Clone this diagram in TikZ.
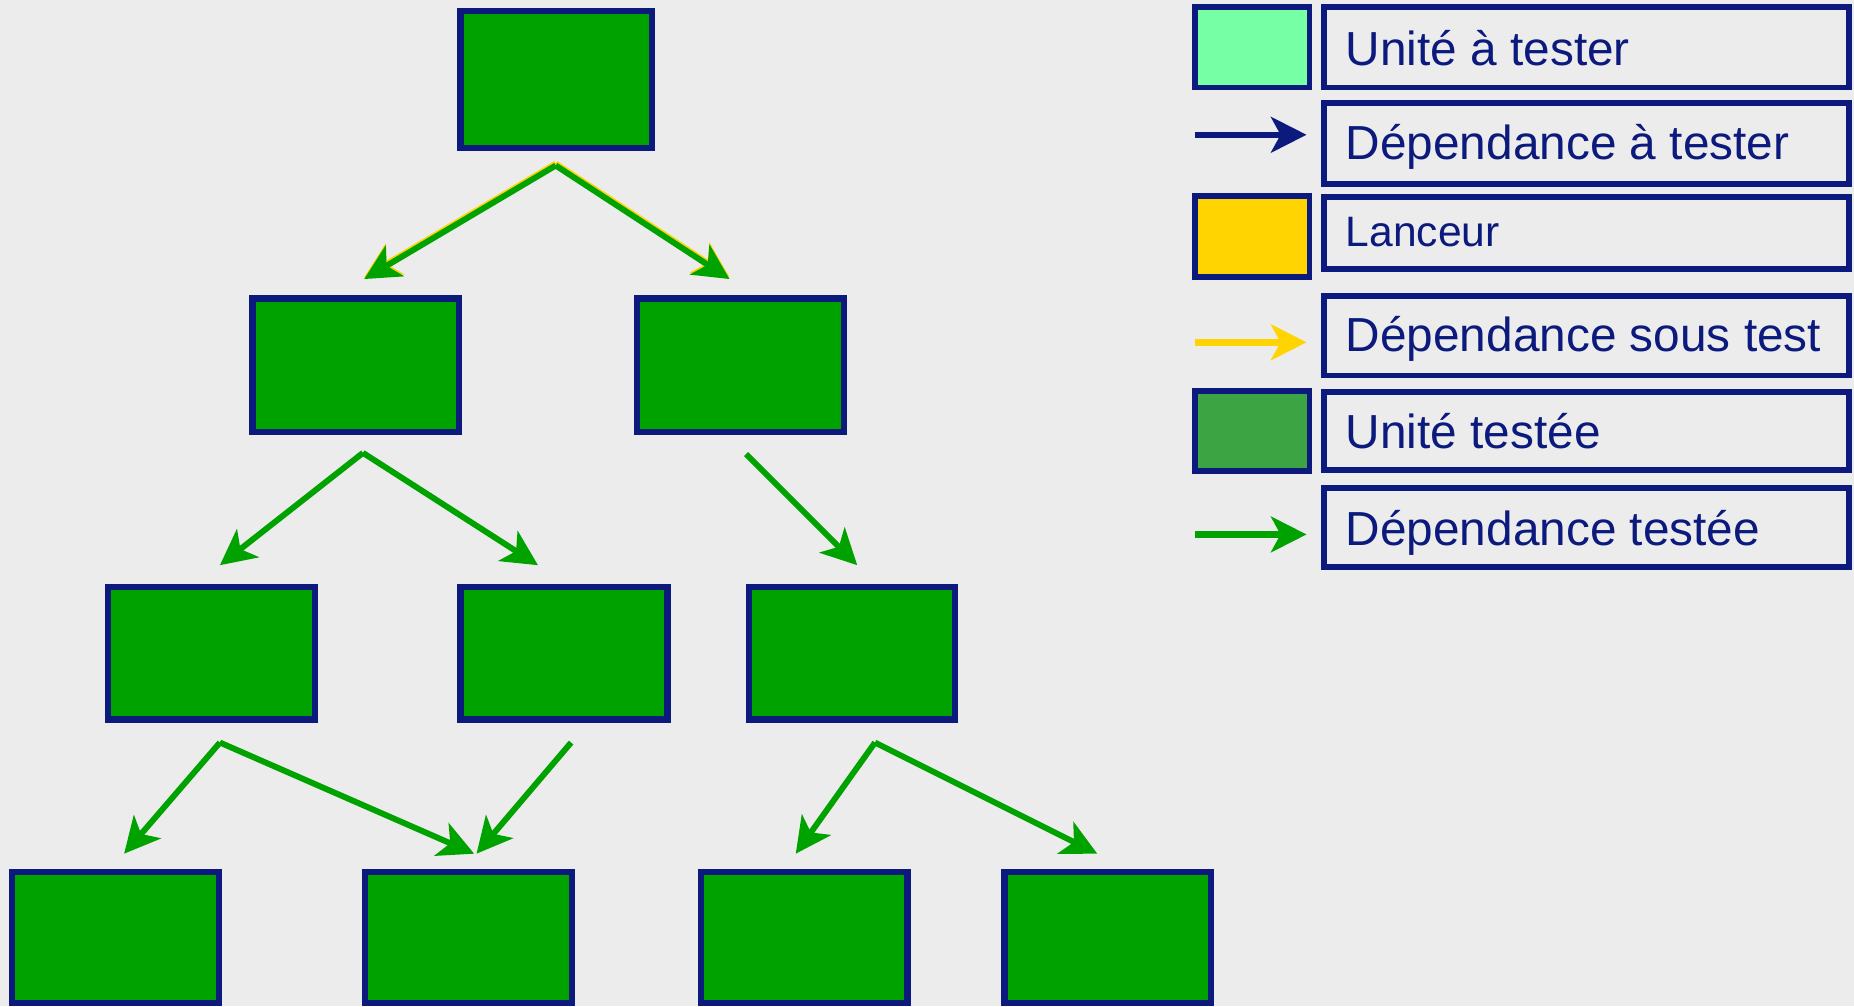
\documentclass[tikz,border=0pt]{standalone}
\usepackage{fontspec}
\setmainfont{Liberation Sans}
\usetikzlibrary{arrows.meta}
\definecolor{navy}{HTML}{0B1A7C}
\definecolor{tgreen}{HTML}{00A200}
\definecolor{mint}{HTML}{77FFA6}
\definecolor{lyellow}{HTML}{FFD400}
\definecolor{dgreen}{HTML}{3DA444}
\definecolor{paper}{HTML}{ECECEC}
\tikzset{
  unit/.style={draw=navy, line width=5.2pt, fill=tgreen, minimum width=175pt, minimum height=112pt, inner sep=0pt},
  swatch/.style={draw=navy, line width=5pt, minimum width=97pt, inner sep=0pt},
  legbox/.style={draw=navy, line width=5pt, minimum width=444pt, inner sep=0pt},
  legtext/.style={anchor=base west, inner sep=0pt, text=navy, font=\fontsize{40.4}{48}\selectfont},
  dep/.style={draw=tgreen, line width=5pt, -{Stealth[length=30pt, width=30pt, inset=8pt]}},
  depy/.style={draw=lyellow, line width=5pt, -{Stealth[length=30pt, width=30pt, inset=8pt]}},
  depn/.style={draw=navy, line width=5.5pt, -{Stealth[length=30pt, width=30pt, inset=8pt]}},
}
\begin{document}
\begin{tikzpicture}[x=1pt, y=-1pt]
\fill[paper] (0,0) rectangle (1568,851);
\useasboundingbox (0,0) rectangle (1568,851);
% tree nodes
\node[unit, minimum width=162pt, minimum height=116pt] (A) at (470.5,67.5) {};
\node[unit, minimum height=113pt] (B1) at (301,309) {};
\node[unit, minimum height=113pt] (B2) at (626,309) {};
\node[unit] (C1) at (179,552.5) {};
\node[unit] (C2) at (477,552.5) {};
\node[unit, minimum width=174pt] (C3) at (720.5,552.5) {};
\node[unit, minimum height=111pt] (D1) at (98,793) {};
\node[unit, minimum height=111pt] (D2) at (396,793) {};
\node[unit, minimum height=111pt] (D3) at (680,793) {};
\node[unit, minimum height=111pt] (D4) at (937,793) {};
% connector end points
\coordinate (Ao) at (470,140);
\coordinate (B1i) at (308,236);
\coordinate (B2i) at (617,236);
\coordinate (B1o) at (307,383);
\coordinate (B2o) at (631,384);
\coordinate (C1i) at (186,478);
\coordinate (C2i) at (455,478);
\coordinate (C3i) at (725,478);
\coordinate (C1o) at (186,628);
\coordinate (C2o) at (483,628);
\coordinate (C3o) at (740,628);
\coordinate (D1i) at (105,722);
\coordinate (D2i) at (401,722);
\coordinate (D2j) at (403,722);
\coordinate (D3i) at (673,722);
\coordinate (D4i) at (928,722);
% dependencies
\draw[depy, transform canvas={yshift=1.6pt}] (Ao) -- (B1i);
\draw[depy, transform canvas={yshift=1.6pt}] (Ao) -- (B2i);
\draw[dep] (Ao) -- (B1i);
\draw[dep] (Ao) -- (B2i);
\draw[dep] (B1o) -- (C1i);
\draw[dep] (B1o) -- (C2i);
\draw[dep] (B2o) -- (C3i);
\draw[dep] (C1o) -- (D1i);
\draw[dep] (C1o) -- (D2i);
\draw[dep] (C2o) -- (D2j);
\draw[dep] (C3o) -- (D3i);
\draw[dep] (C3o) -- (D4i);
% legend
\node[swatch, fill=mint, minimum height=68pt] (s1) at (1059,40) {};
\node[legbox, minimum height=68pt] (t1) at (1341.5,40) {};
\node[legtext] (l1) at (1138,55) {Unité à tester};
\coordinate (a1s) at (1011,114);
\coordinate (a1e) at (1105,114);
\draw[depn] (a1s) -- (a1e);
\node[legbox, minimum height=68pt] (t2) at (1341.5,121.3) {};
\node[legtext] (l2) at (1138,135) {Dépendance à tester};
\node[swatch, fill=lyellow, minimum height=68pt] (s2) at (1059,200) {};
\node[legbox, minimum height=61pt] (t3) at (1341.5,197) {};
\node[legtext, font=\fontsize{36}{43}\selectfont] (l3) at (1138,208.6) {Lanceur};
\coordinate (a2s) at (1011,289.5);
\coordinate (a2e) at (1105,289.5);
\draw[depy, line width=5.5pt] (a2s) -- (a2e);
\node[legbox, minimum height=67.5pt] (t4) at (1341.5,283.8) {};
\node[legtext] (l4) at (1138,297.4) {Dépendance sous test};
\node[swatch, fill=dgreen, minimum height=67.6pt] (s3) at (1059,364.7) {};
\node[legbox, minimum height=66pt] (t5) at (1341.5,364.7) {};
\node[legtext] (l5) at (1138,379) {Unité testée};
\coordinate (a3s) at (1011,452);
\coordinate (a3e) at (1105,452);
\draw[dep, line width=5.5pt] (a3s) -- (a3e);
\node[legbox, minimum height=67pt] (t6) at (1341.5,446) {};
\node[legtext] (l6) at (1138,461) {Dépendance testée};
\end{tikzpicture}
\end{document}
